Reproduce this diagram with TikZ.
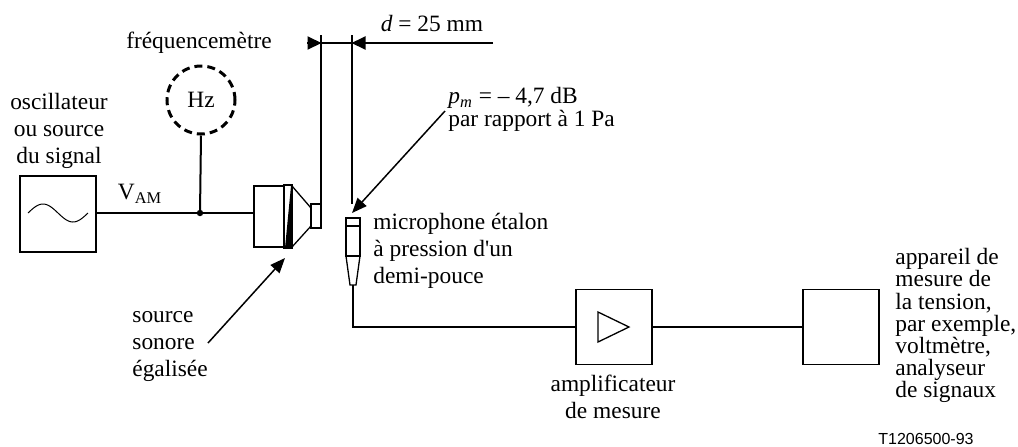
\documentclass[tikz,border=0pt]{standalone}
\usepackage{fontspec}
\setmainfont{Liberation Serif}
\newfontfamily\tagfont{Liberation Sans}
\usetikzlibrary{arrows.meta}

\newcommand{\lblsize}{\fontsize{11.7}{13.5}\selectfont}
\tikzset{
  lbl/.style={font=\lblsize, inner sep=0pt},
  box/.style={draw, line width=0.65pt, inner sep=0pt},
  wire/.style={line width=1pt},
  pointer/.style={line width=0.75pt, -{Triangle[length=7.5pt,width=6pt]}},
  dimtip/.style={-{Triangle[length=7pt,width=6.5pt]}},
}

\begin{document}
\begin{tikzpicture}[x=0.5pt,y=-0.5pt]
  \useasboundingbox (0,0) rectangle (1018,446);

  % oscillateur
  \node[box, minimum width=38pt, minimum height=38pt] (osc) at (58,214) {};
  \draw[line width=0.5pt, domain=0:360, samples=60] plot ({28+\x/6}, {213-9*sin(\x)});
  \node[lbl, align=center, anchor=north] (osclbl) at (59,93) {oscillateur\\ou source\\du signal};

  % frequencemetre
  \node[draw, circle, line width=1.5pt, dash pattern=on 4pt off 2.5pt,
        minimum size=34pt, inner sep=0pt, font=\lblsize] (hz) at (201,100) {Hz};
  \node[lbl] (freq) at (199,43) {fréquencemètre};
  \coordinate (jct) at (200,213);
  \fill (jct) circle (3.2);
  \draw[wire] (hz.south) -- (jct);
  \node[lbl] (vam) at (140,194) {V\textsubscript{AM}};

  % source sonore
  \node[box, minimum width=15pt, minimum height=30.5pt] (spk) at (269,216.5) {};
  \draw[wire] (osc.east |- jct) -- (jct) -- (spk.west |- jct);
  \draw[line width=0.65pt] (284,185) rectangle (292,248);
  \fill (291,186) -- (292,248) -- (285,248) -- cycle;
  \draw[line width=0.65pt] (292,186) -- (311,208) (292,247) -- (311,226);
  \draw[line width=0.65pt] (311,204) rectangle (321,228);

  % distance d
  \draw[wire] (321,35) -- (321,228);
  \draw[wire] (352,35) -- (352,204);
  \draw[wire, dimtip] (307,43) -- (321.5,43);
  \draw[wire] (321,43) -- (352,43);
  \draw[wire, dimtip] (493,43) -- (351.5,43);
  \node[lbl] (dist) at (432,23) {\textit{d} = 25 mm};

  % microphone
  \draw[line width=0.65pt] (346,218) rectangle (360,256);
  \draw[line width=1.2pt] (346,226) -- (360,226) (346,256) -- (360,256);
  \draw[line width=0.65pt] (346,256) -- (350,285) -- (356,285) -- (360,256);
  \coordinate (micb) at (353,285);
  \node[lbl, align=left, anchor=north west] (miclbl) at (373,213)
    {microphone étalon\\à pression d\textquotesingle un\\demi-pouce};

  % pression
  \node[lbl, align=left, anchor=north west, font=\fontsize{11.7}{10.5}\selectfont] (pm) at (448,87)
    {\textit{p}\textsubscript{\textit{m}} = – 4,7 dB\\par rapport à 1 Pa};
  \coordinate (pmfoot) at (445,111);
  \coordinate (pmtip) at (352,213);
  \draw[pointer] (pmfoot) -- (pmtip);

  % source sonore egalisee
  \node[lbl, align=left, anchor=north west] (srclbl) at (132,311) {source\\sonore\\égalisée};
  \coordinate (srcfoot) at (208,343);
  \coordinate (srctip) at (285,258);
  \draw[pointer] (srcfoot) -- (srctip);

  % amplificateur et appareil de mesure
  \node[box, minimum width=38pt, minimum height=37.5pt] (amp) at (614,327) {};
  \draw[line width=0.65pt] (598,312) -- (629,327) -- (598,342) -- cycle;
  \node[lbl, align=center, anchor=north] (amplbl) at (613,375) {amplificateur\\de mesure};
  \node[box, minimum width=38pt, minimum height=37.5pt] (mtr) at (841,327) {};
  \draw[wire] (micb) -- (353,327) -- (amp.west);
  \draw[wire] (amp.east) -- (mtr.west);
  \node[lbl, align=left, anchor=north west, font=\fontsize{11.7}{11.1}\selectfont] (mtrlbl) at (895,248)
    {appareil de\\mesure de\\la tension,\\par exemple,\\voltmètre,\\analyseur\\de signaux};

  \node[font=\tagfont\fontsize{8}{9}\selectfont, inner sep=0pt] (tag) at (926,439) {T1206500-93};
\end{tikzpicture}
\end{document}
